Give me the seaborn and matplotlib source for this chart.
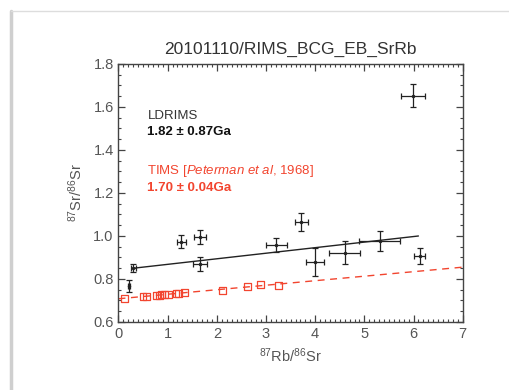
import numpy as np
import pandas as pd
import seaborn as sns
import matplotlib.pyplot as plt
from matplotlib.lines import Line2D
from matplotlib.ticker import MultipleLocator

# LDRIMS measurements (87Rb/86Sr, 87Sr/86Sr) with errors
rb_sr = [0.22, 0.30, 1.28, 1.66, 1.66, 3.21, 3.72, 3.99, 4.60, 5.31, 6.13, 5.99]
sr_sr = [0.767, 0.853, 0.973, 0.994, 0.870, 0.958, 1.067, 0.878, 0.922, 0.978, 0.907, 1.653]
rb_err = [0.02, 0.05, 0.095, 0.115, 0.135, 0.22, 0.14, 0.18, 0.32, 0.42, 0.11, 0.25]
sr_err = [0.026, 0.019, 0.031, 0.033, 0.033, 0.033, 0.042, 0.064, 0.053, 0.047, 0.036, 0.052]

# TIMS data (Peterman et al, 1968)
tims_rb = [0.12, 0.50, 0.57, 0.78, 0.83, 0.88, 0.93, 1.01, 1.17, 1.22, 1.34, 2.11, 2.62, 2.88, 3.26]
tims_sr = [0.710, 0.718, 0.718, 0.722, 0.724, 0.726, 0.727, 0.727, 0.732, 0.733, 0.736,
           0.746, 0.764, 0.775, 0.769]

# isochron lines
ld_fit_x = [0.30, 6.10]
ld_fit_y = [0.850, 1.000]
tims_fit_x = [0.0, 7.0]
tims_fit_y = [0.708, 0.855]

red = '#f2452f'
dark = '#333333'

sns.set_style('ticks')
plt.rcParams['font.family'] = ['Liberation Sans', 'DejaVu Sans']
plt.rcParams['mathtext.fontset'] = 'custom'
plt.rcParams['mathtext.rm'] = 'Liberation Sans'
plt.rcParams['mathtext.it'] = 'Liberation Sans:italic'
plt.rcParams['mathtext.default'] = 'regular'

fig = plt.figure(figsize=(5.09, 3.90), dpi=100)
ax = fig.add_axes([0.2328, 0.1744, 0.6762, 0.6615])

# slide frame
fig.add_artist(Line2D([11 / 509, 11 / 509], [0, 1 - 11 / 390], color='#cfcfcf', lw=2.5))
fig.add_artist(Line2D([11 / 509, 1], [1 - 11 / 390, 1 - 11 / 390], color='#dddddd', lw=1))

tims = pd.DataFrame({'x': tims_rb, 'y': tims_sr})
sns.lineplot(x=tims_fit_x, y=tims_fit_y, ax=ax, color=red, lw=1, linestyle=(0, (5, 4)))
sns.scatterplot(data=tims, x='x', y='y', ax=ax, marker='s', s=24,
                facecolor='none', edgecolor=red, linewidth=0.9, zorder=3)

sns.lineplot(x=ld_fit_x, y=ld_fit_y, ax=ax, color='#222222', lw=1)
ax.errorbar(rb_sr, sr_sr, xerr=rb_err, yerr=sr_err, fmt='.', ms=3, color='#222222',
            elinewidth=0.9, capsize=2, capthick=0.9)

ax.set_xlim(0, 7)
ax.set_ylim(0.6, 1.8)
ax.xaxis.set_major_locator(MultipleLocator(1))
ax.xaxis.set_minor_locator(MultipleLocator(0.1))
ax.yaxis.set_minor_locator(MultipleLocator(0.05))
ax.set_yticks([0.6, 0.8, 1.0, 1.2, 1.4, 1.6, 1.8])
ax.set_yticklabels(['0.6', '0.8', '1.0', '1.2', '1.4', '1.6', '1.8'])
ax.tick_params(which='both', direction='in', top=True, right=True, colors='#444444',
               labelcolor='#555555', labelsize=10.5)
ax.tick_params(which='major', length=5, width=0.9)
ax.tick_params(which='minor', length=2.5, width=0.8)
for s in ax.spines.values():
    s.set_color('#444444')
    s.set_linewidth(1)

ax.set_title('20101110/RIMS_BCG_EB_SrRb', fontsize=12.5, color=dark, pad=7)
ax.set_xlabel('$^{87}$Rb/$^{86}$Sr', fontsize=10.5, color='#555555', labelpad=4)
ax.set_ylabel('$^{87}$Sr/$^{86}$Sr', fontsize=10.5, color='#555555', labelpad=6)

ax.text(0.084, 0.80, 'LDRIMS', transform=ax.transAxes, fontsize=9.5, color=dark, va='center')
ax.text(0.084, 0.735, '1.82 ± 0.87Ga', transform=ax.transAxes, fontsize=9.5,
        color='#111111', fontweight='bold', va='center')
ax.text(0.084, 0.586, r'TIMS [$\it{Peterman\ et\ al}$, 1968]', transform=ax.transAxes,
        fontsize=9.5, color=red, va='center')
ax.text(0.084, 0.521, '1.70 ± 0.04Ga', transform=ax.transAxes, fontsize=9.5,
        color=red, fontweight='bold', va='center')

fig.savefig('out.png', dpi=100)
